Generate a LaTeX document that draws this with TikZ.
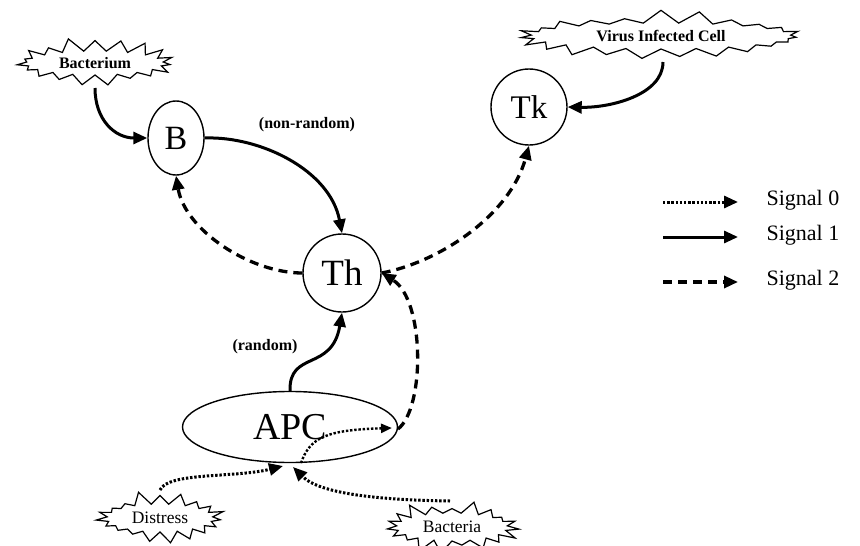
\documentclass[tikz,border=0pt]{standalone}
\usepackage{fontspec}
\setmainfont{Liberation Serif}
\usetikzlibrary{shapes.geometric,shapes.symbols,arrows.meta}
\begin{document}
\begin{tikzpicture}[x=1pt,y=-1pt,
  cell/.style={draw,line width=1.4pt,inner sep=0pt},
  burst/.style={draw,shape=starburst,line width=1.2pt,inner sep=0pt,starburst points=19,starburst point height=14pt},
  blabel/.style={font=\fontsize{16}{18}\selectfont\bfseries},
  rlabel/.style={font=\fontsize{17.5}{19}\selectfont},
  tip/.style={-{Triangle[length=14pt,width=12pt]}},
  sig0/.style={tip,line width=3pt,dash pattern=on 2.4pt off 1.8pt},
  sig1/.style={tip,line width=3pt},
  sig2/.style={tip,line width=3.3pt,dash pattern=on 9pt off 6pt},
  legtext/.style={anchor=west,font=\fontsize{22}{24}\selectfont}
]
\useasboundingbox (0,0) rectangle (860,546);
% cells
\node[cell,ellipse,minimum width=56pt,minimum height=74pt,font=\fontsize{34}{36}\selectfont] (B) at (176,138) {B};
\node[cell,circle,minimum size=76pt,font=\fontsize{33}{35}\selectfont] (Tk) at (529,107) {Tk};
\node[cell,circle,minimum size=78pt,font=\fontsize{37}{39}\selectfont] (Th) at (342,273) {Th};
\node[cell,ellipse,minimum width=215pt,minimum height=71pt,font=\fontsize{38}{40}\selectfont] (APC) at (290,427) {APC};
% bursts
\node[burst,minimum width=165pt,minimum height=52pt,random starburst=11] (bact) at (95,63) {};
\node[blabel] at (bact.center) {Bacterium};
\node[burst,minimum width=288pt,minimum height=54pt,random starburst=7,starburst points=23] (virus) at (661,36) {};
\node[blabel] at (virus.center) {Virus Infected Cell};
\node[burst,minimum width=134pt,minimum height=56pt,random starburst=5] (dist) at (160,518) {};
\node[rlabel] at (dist.center) {Distress};
\node[burst,minimum width=139pt,minimum height=56pt,random starburst=3] (bacteria) at (452,527) {};
\node[rlabel] at (bacteria.center) {Bacteria};
% connectors
\draw[sig1] (95,88) .. controls (95,120) and (115,138) .. (B.west);
\draw[sig1] (B.east) .. controls (260,136) and (330,170) .. (Th.north);
\node[blabel] at (307,125) {(non-random)};
\draw[sig1] (663,62) .. controls (663,95) and (610,108) .. (Tk.east);
\draw[sig2] (Th.west) .. controls (250,273) and (185,230) .. (B.south);
\draw[sig2] (Th.east) .. controls (440,262) and (510,215) .. (Tk.south);
\coordinate (apcE) at (398,429);
\draw[sig2] (apcE) .. controls (425,408) and (425,300) .. (Th.east);
\draw[sig1] (APC.north) .. controls (289,350) and (332,372) .. (Th.south);
\node[blabel] at (265,347) {(random)};
\coordinate (apcIn) at (301,463);
\coordinate (apcR) at (392,428);
\draw[sig0,line width=2.4pt,-{Triangle[length=11pt,width=9pt]}] (apcIn) .. controls (310,438) and (325,430) .. (apcR);
\coordinate (apcB1) at (283,466);
\coordinate (apcB2) at (293,467);
\draw[sig0] (160,490) .. controls (168,472) and (235,478) .. (apcB1);
\draw[sig0] (450,501) .. controls (380,500) and (320,494) .. (apcB2);
% legend
\coordinate (l0a) at (663,202); \coordinate (l0b) at (738,202);
\coordinate (l1a) at (663,237); \coordinate (l1b) at (738,237);
\coordinate (l2a) at (663,282); \coordinate (l2b) at (738,282);
\draw[sig0] (l0a) -- (l0b);
\draw[sig1] (l1a) -- (l1b);
\draw[sig2] (l2a) -- (l2b);
\node[legtext] (t0) at (763,200) {Signal 0};
\node[legtext] (t1) at (763,235) {Signal 1};
\node[legtext] (t2) at (763,280) {Signal 2};
\end{tikzpicture}
\end{document}
